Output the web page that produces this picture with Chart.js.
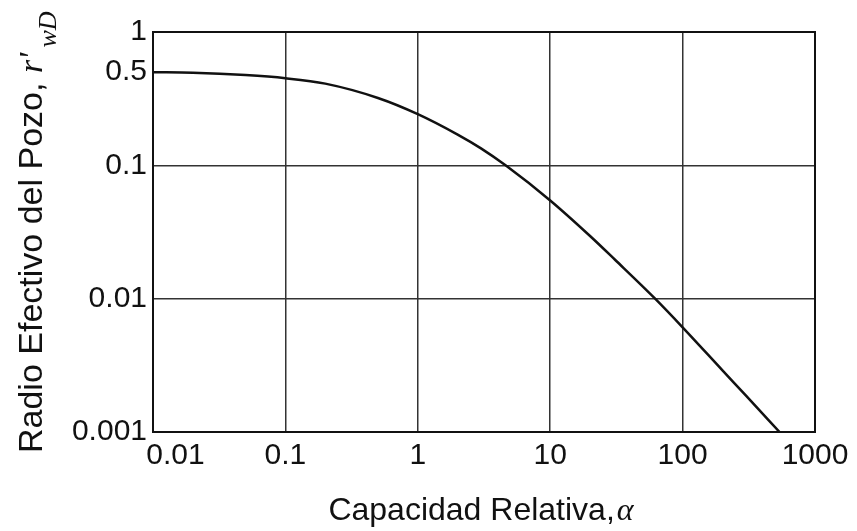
<!DOCTYPE html>
<html>
<head>
<meta charset="utf-8">
<script src="https://cdn.jsdelivr.net/npm/chart.js@4/dist/chart.umd.min.js"></script>
<style>
  html, body { margin: 0; padding: 0; background: #fff; }
  #wrap { width: 857px; height: 531px; position: relative; }
</style>
</head>
<body>
<div id="wrap"><canvas id="grafico" width="857" height="531"></canvas></div>
<script>
"use strict";

// capacidad relativa (alfa) y radio efectivo r'wD
const alfa = [0.01, 0.02, 0.05, 0.1, 0.2, 0.5, 1, 2, 3, 4.6, 10, 20, 31, 62, 100, 200, 300, 540];
const radioEf = [0.5, 0.495, 0.475, 0.45, 0.41, 0.32, 0.242, 0.17, 0.134, 0.1, 0.0545, 0.0295, 0.0195, 0.01, 0.0061, 0.0029, 0.00188, 0.001];

const xTicks = [0.01, 0.1, 1, 10, 100, 1000];
const xTickLabels = ["\u2003\u20020.01", "0.1", "1", "10", "100", "1000"];
const yTicks = [0.001, 0.01, 0.1, 0.5, 1];
const yTickLabels = ["0.001", "0.01", "0.1", "0.5", "1"];

const SANS = "'Liberation Sans', Arial, sans-serif";
const SERIF = "'Liberation Serif', 'Times New Roman', serif";
const INK = "#111";

// marco y titulos con fuentes mezcladas
const marcoYTitulos = {
    id: "marcoYTitulos",
    afterDraw(chart) {
        const { ctx, chartArea: a } = chart;
        ctx.save();
        ctx.strokeStyle = INK;
        ctx.lineWidth = 2;
        ctx.strokeRect(a.left, a.top, a.right - a.left, a.bottom - a.top);

        ctx.fillStyle = INK;
        ctx.textBaseline = "alphabetic";

        // titulo eje x
        const t1 = "Capacidad Relativa,";
        ctx.font = "32px " + SANS;
        const w1 = ctx.measureText(t1).width;
        ctx.font = "italic 32px " + SERIF;
        const w2 = ctx.measureText("\u03b1").width;
        const x = 481 - (w1 + w2 + 2) / 2;
        ctx.font = "32px " + SANS;
        ctx.fillText(t1, x, 520);
        ctx.font = "italic 32px " + SERIF;
        ctx.fillText("\u03b1", x + w1 + 2, 520);

        // titulo eje y (rotado)
        ctx.translate(42, 453);
        ctx.rotate(-Math.PI / 2);
        const ty = "Radio Efectivo del Pozo, ";
        ctx.font = "34px " + SANS;
        ctx.fillText(ty, 0, 0);
        let pos = ctx.measureText(ty).width;
        ctx.font = "italic 34px " + SERIF;
        ctx.fillText("r'", pos, 0);
        pos += ctx.measureText("r'").width + 5;
        ctx.font = "italic 26px " + SERIF;
        ctx.fillText("wD", pos, 14);
        ctx.restore();
    }
};

new Chart(document.getElementById("grafico"), {
    type: "scatter",
    data: {
        datasets: [{
            data: alfa.map((a, i) => ({ x: a, y: radioEf[i] })),
            showLine: true,
            borderColor: INK,
            borderWidth: 2.5,
            pointRadius: 0,
            cubicInterpolationMode: "monotone",
            fill: false
        }]
    },
    options: {
        responsive: false,
        animation: false,
        layout: { padding: { top: 32, right: 42, left: 0, bottom: 0 } },
        plugins: { legend: { display: false }, tooltip: { enabled: false } },
        scales: {
            x: {
                type: "logarithmic",
                min: 0.01,
                max: 1000,
                afterBuildTicks: axis => { axis.ticks = xTicks.map(v => ({ value: v })); },
                afterFit: axis => { axis.height = 99; },
                ticks: {
                    callback: (v, i) => xTickLabels[i],
                    color: INK,
                    font: { family: SANS, size: 30 },
                    padding: 6,
                    maxRotation: 0,
                    autoSkip: false
                },
                grid: { color: "#333", lineWidth: 1.5, drawTicks: false },
                border: { display: false }
            },
            y: {
                type: "logarithmic",
                min: 0.001,
                max: 1,
                afterBuildTicks: axis => { axis.ticks = yTicks.map(v => ({ value: v })); },
                afterFit: axis => { axis.width = 153; },
                ticks: {
                    callback: (v, i) => yTickLabels[i],
                    color: INK,
                    font: { family: SANS, size: 30 },
                    padding: 6,
                    autoSkip: false
                },
                grid: {
                    color: ctx => (ctx.tick && ctx.tick.value === 0.5) ? "rgba(0,0,0,0)" : "#333",
                    lineWidth: 1.5,
                    drawTicks: false
                },
                border: { display: false }
            }
        }
    },
    plugins: [marcoYTitulos]
});
</script>
</body>
</html>
